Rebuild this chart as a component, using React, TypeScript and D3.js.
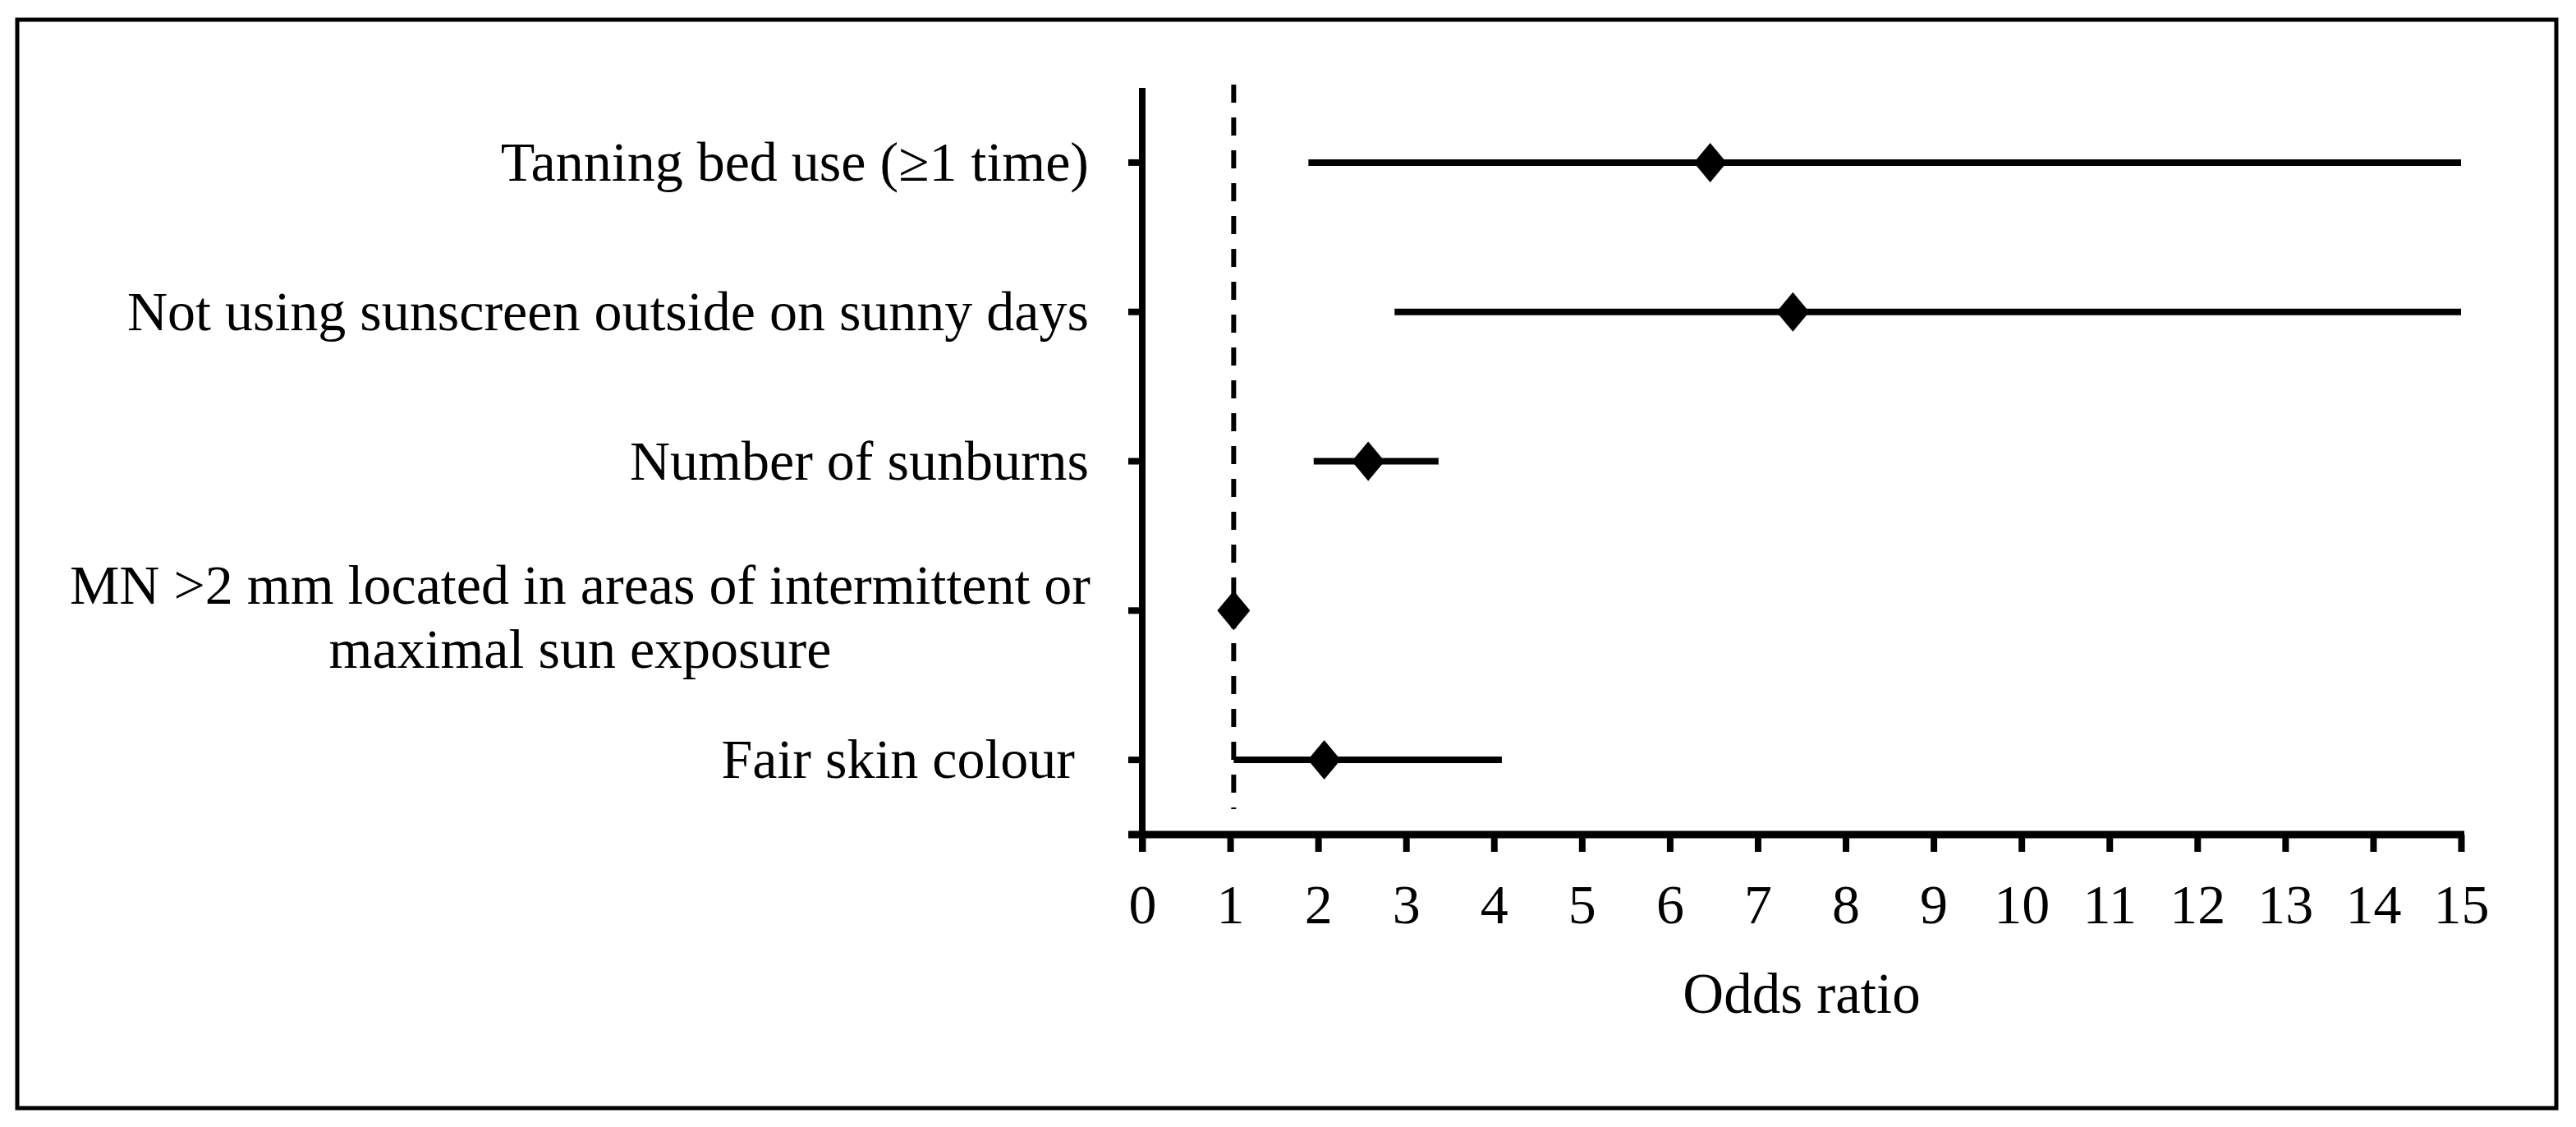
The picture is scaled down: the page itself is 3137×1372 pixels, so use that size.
import React, { useEffect, useRef } from "react";
import * as d3 from "d3";

// risk factors, top to bottom ("|" marks a wrapped line)
const factors = [
    "Tanning bed use (≥1 time)",
    "Not using sunscreen outside on sunny days",
    "Number of sunburns",
    "MN >2 mm located in areas of intermittent or|maximal sun exposure",
    "Fair skin colour ",
];
const oddsRatios = [6.46, 7.4, 2.57, 1.04, 2.07];
const ciLower = [1.89, 2.87, 1.95, 1.02, 1.04];
const ciUpper = [15, 15, 3.37, 1.06, 4.09];
const xTicks = [0, 1, 2, 3, 4, 5, 6, 7, 8, 9, 10, 11, 12, 13, 14, 15];
const referenceOR = 1.04;

const ForestPlot = () => {
    const svgRef = useRef();

    useEffect(() => {
        const width = 3137;
        const height = 1372;
        const plot = { left: 1391, right: 2997, top: 107, bottom: 1016 };
        const labelRight = 1326;
        const font = "'Liberation Serif', 'Times New Roman', serif";

        const x = d3.scaleLinear().domain([0, 15]).range([plot.left, plot.right]);
        const y = d3.scaleBand().domain(factors).range([plot.top, plot.bottom]);
        const cy = (d) => y(d) + y.bandwidth() / 2;

        const svg = d3.select(svgRef.current);
        svg.selectAll("*").remove();
        svg.attr("width", width).attr("height", height);

        // outer frame
        svg.append("rect")
            .attr("x", 21)
            .attr("y", 24)
            .attr("width", 3092)
            .attr("height", 1325)
            .attr("fill", "none")
            .attr("stroke", "#000")
            .attr("stroke-width", 5);

        // x axis
        const xAxis = svg
            .append("g")
            .attr("transform", `translate(0, ${plot.bottom})`)
            .call(d3.axisBottom(x).tickValues(xTicks).tickSize(21).tickSizeOuter(0));
        xAxis.select(".domain").remove();
        xAxis.selectAll(".tick line").attr("stroke", "#000").attr("stroke-width", 8);
        xAxis.selectAll(".tick text")
            .attr("y", 108)
            .attr("dy", 0)
            .attr("fill", "#000")
            .style("font-family", font)
            .style("font-size", "68px");
        svg.append("line")
            .attr("x1", plot.left - 17)
            .attr("x2", plot.right + 4)
            .attr("y1", plot.bottom)
            .attr("y2", plot.bottom)
            .attr("stroke", "#000")
            .attr("stroke-width", 9);

        svg.append("text")
            .attr("x", (plot.left + plot.right) / 2)
            .attr("y", 1233)
            .attr("text-anchor", "middle")
            .style("font-family", font)
            .style("font-size", "69px")
            .text("Odds ratio");

        // y axis
        svg.append("line")
            .attr("x1", plot.left)
            .attr("x2", plot.left)
            .attr("y1", plot.top)
            .attr("y2", plot.bottom + 21)
            .attr("stroke", "#000")
            .attr("stroke-width", 8);
        svg.selectAll(".ytick")
            .data(factors)
            .enter()
            .append("line")
            .attr("class", "ytick")
            .attr("x1", plot.left - 17)
            .attr("x2", plot.left)
            .attr("y1", cy)
            .attr("y2", cy)
            .attr("stroke", "#000")
            .attr("stroke-width", 8);

        // reference line
        svg.append("line")
            .attr("x1", x(referenceOR))
            .attr("x2", x(referenceOR))
            .attr("y1", 103)
            .attr("y2", 985)
            .attr("stroke", "#000")
            .attr("stroke-width", 6)
            .attr("stroke-dasharray", "22 18");

        // labels
        svg.selectAll(".label")
            .data(factors)
            .enter()
            .append("text")
            .attr("class", "label")
            .style("font-family", font)
            .style("font-size", "68px")
            .style("white-space", "pre")
            .each(function (d) {
                const t = d3.select(this);
                const lines = d.split("|");
                if (lines.length === 1) {
                    t.attr("x", labelRight).attr("y", cy(d) + 22).attr("text-anchor", "end").text(d);
                } else {
                    // wrapped label: lines centred on the first line
                    const first = t.append("tspan").attr("y", cy(d) - 8).text(lines[0]);
                    const len = first.node().getComputedTextLength();
                    const mid = labelRight + 2 - len / 2;
                    t.attr("text-anchor", "middle");
                    first.attr("x", mid);
                    t.append("tspan").attr("x", mid).attr("y", cy(d) + 70).text(lines[1]);
                }
            });

        // confidence intervals
        svg.selectAll(".ci")
            .data(factors)
            .enter()
            .append("line")
            .attr("class", "ci")
            .attr("x1", (d, i) => x(ciLower[i]))
            .attr("x2", (d, i) => x(ciUpper[i]))
            .attr("y1", cy)
            .attr("y2", cy)
            .attr("stroke", "#000")
            .attr("stroke-width", 8);

        // point estimates
        const diamond = (cx, cyv) => {
            const p = d3.path();
            p.moveTo(cx, cyv - 24);
            p.lineTo(cx + 20, cyv);
            p.lineTo(cx, cyv + 24);
            p.lineTo(cx - 20, cyv);
            p.closePath();
            return p.toString();
        };
        svg.selectAll(".or")
            .data(factors)
            .enter()
            .append("path")
            .attr("class", "or")
            .attr("d", (d, i) => diamond(x(oddsRatios[i]), cy(d)))
            .attr("fill", "#000");
    }, []);

    return <svg ref={svgRef} style={{ position: "absolute", left: 0, top: 0, background: "#fff" }}></svg>;
};

export default function App() {
    return <ForestPlot />;
}
